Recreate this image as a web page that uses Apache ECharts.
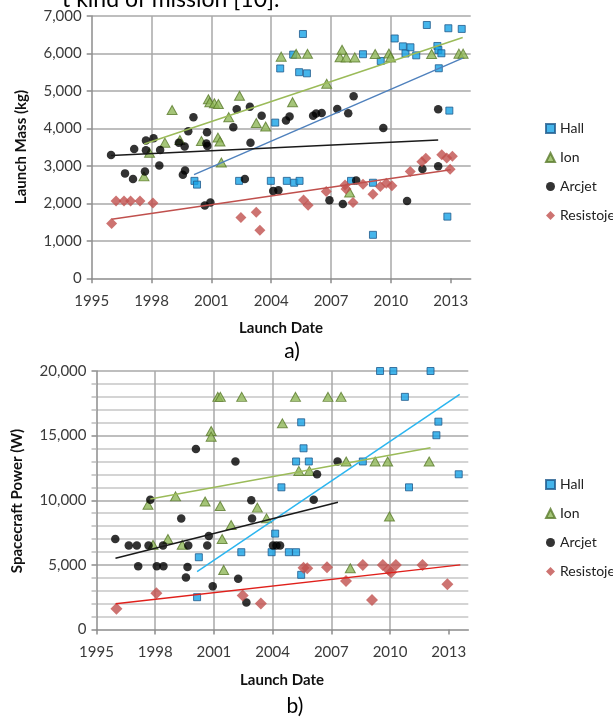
<!DOCTYPE html>
<html><head><meta charset="utf-8">
<script src="https://cdn.jsdelivr.net/npm/echarts@6/dist/echarts.min.js"></script>
<style>html,body{margin:0;padding:0;background:#fff;}#c{width:613px;height:718px;}</style>
</head><body><div id="c"></div>
<script>
// ---------- data ----------
const seriesNames = ['Hall', 'Ion', 'Arcjet', 'Resistojet'];
const xTicks = [1995, 1998, 2001, 2004, 2007, 2010, 2013];
const massTicks = [0, 1000, 2000, 3000, 4000, 5000, 6000, 7000];
const powerTicks = [0, 5000, 10000, 15000, 20000];

// a) Launch mass (kg) vs launch date
const hallMass = [[2000.15,2600],[2000.28,2500],[2002.39,2600],[2003.98,2600],[2004.2,4155],[2004.45,5600],[2004.78,2600],[2005.1,5970],[2005.15,2550],[2005.4,5500],[2005.42,2600],[2005.59,6520],[2005.79,5470],[2008.0,2600],[2008.6,5980],[2009.1,2550],[2009.1,1160],[2009.49,5800],[2010.19,6400],[2010.6,6190],[2010.73,6000],[2010.98,6165],[2011.27,5950],[2011.8,6760],[2012.33,6200],[2012.38,6095],[2012.4,5605],[2012.53,6005],[2012.83,1646],[2012.88,6673],[2012.93,4475],[2013.55,6655]];
const ionMass = [[1997.62,2720],[1997.9,3350],[1998.67,3620],[1999.03,4490],[1999.42,3690],[2000.5,3665],[2000.85,4780],[2000.92,4700],[2001.15,4670],[2001.35,4650],[2001.33,3755],[2001.43,3650],[2001.5,3090],[2001.87,4300],[2002.41,4870],[2003.25,4145],[2003.72,4050],[2004.5,5915],[2005.07,4700],[2005.25,5990],[2005.82,5990],[2006.78,5190],[2007.45,5900],[2007.55,6100],[2007.76,5895],[2008.19,5895],[2007.93,2290],[2009.21,5985],[2009.9,6000],[2009.98,5895],[2012.04,5985],[2013.41,5995],[2013.62,5995]];
const arcjetMass = [[1995.97,3290],[1996.67,2800],[1997.07,2650],[1997.13,3450],[1997.67,2850],[1997.72,3675],[1997.72,3420],[1998.1,3740],[1998.39,3010],[1998.43,3425],[1999.37,3620],[1999.57,2765],[1999.66,3515],[1999.68,2880],[1999.84,3925],[2000.1,4300],[2000.67,1940],[2000.75,3600],[2000.78,3900],[2000.8,3530],[2000.95,2020],[2002.1,4030],[2002.27,4510],[2002.68,2650],[2002.93,4580],[2002.96,3615],[2003.52,4335],[2004.1,2330],[2004.36,2350],[2004.74,4210],[2004.92,4315],[2006.1,4335],[2006.25,4400],[2006.53,4410],[2006.92,2080],[2007.31,4515],[2007.59,1980],[2007.86,4405],[2008.13,4860],[2008.26,2607],[2009.62,4013],[2010.81,2065],[2011.58,2915],[2012.37,4512],[2012.37,2990]];
const resistojetMass = [[1996.0,1460],[1996.22,2065],[1996.62,2065],[1996.95,2065],[1997.42,2065],[1998.07,2010],[2002.48,1625],[2003.25,1765],[2003.43,1280],[2005.62,2090],[2005.85,1950],[2006.76,2314],[2007.7,2490],[2007.75,2380],[2008.1,2025],[2008.6,2510],[2009.1,2245],[2009.47,2447],[2009.77,2537],[2010.05,2467],[2010.97,2848],[2011.55,3113],[2011.75,3203],[2012.55,3300],[2012.8,3210],[2012.97,2910],[2013.08,3260]];
const hallMassTrend = [[2000.13,2767],[2013.6,5875]];
const ionMassTrend = [[1997.63,3585],[2013.6,6425]];
const arcjetMassTrend = [[1995.97,3275],[2012.37,3693]];
const resistojetMassTrend = [[1996.0,1575],[2013.0,2895]];

// b) Spacecraft power (W) vs launch date
const hallPower = [[2000.14,2500],[2000.23,5590],[2002.4,5980],[2003.95,5980],[2004.13,7420],[2004.45,11000],[2004.83,5980],[2005.2,5980],[2005.2,13000],[2005.46,4230],[2005.46,16030],[2005.58,14020],[2005.85,13000],[2008.61,13000],[2009.49,20000],[2010.17,20000],[2010.76,18000],[2010.97,11000],[2012.07,20000],[2012.37,15030],[2012.47,16080],[2013.51,12010]];
const ionPower = [[1997.63,9650],[1997.89,6550],[1998.65,7000],[1999.04,10300],[1999.38,6550],[2000.55,9900],[2000.86,15360],[2000.86,14920],[2001.2,18000],[2001.33,18000],[2001.32,9560],[2001.42,7000],[2001.5,4610],[2001.88,8090],[2002.42,18000],[2003.22,9430],[2003.69,8600],[2004.5,15950],[2005.17,18000],[2005.34,12270],[2005.88,12270],[2006.83,18000],[2007.5,18000],[2007.76,13000],[2007.97,4740],[2009.24,13000],[2009.88,13000],[2009.97,8740],[2012.0,13000]];
const arcjetPower = [[1995.96,7010],[1996.65,6500],[1997.06,6500],[1997.13,4900],[1997.66,6500],[1997.75,10030],[1998.08,4900],[1998.4,6500],[1998.42,4900],[1999.33,8580],[1999.57,4030],[1999.65,4830],[1999.69,6500],[2000.08,13970],[2000.66,6500],[2000.74,7230],[2000.94,3350],[2002.1,12990],[2002.24,3930],[2002.66,2080],[2002.91,10000],[2002.95,8580],[2004.02,6500],[2004.2,6500],[2004.38,6500],[2006.1,10030],[2006.27,12010],[2007.32,13000]];
const resistojetPower = [[1996.02,1600],[1998.06,2810],[2002.47,2630],[2003.4,2010],[2005.58,4780],[2005.77,4740],[2006.78,4820],[2007.75,3760],[2008.61,5000],[2009.08,2290],[2009.63,5000],[2009.92,4620],[2010.06,4420],[2010.3,5000],[2011.66,5000],[2012.93,3500]];
const hallPowerTrend = [[2000.14,4485],[2013.56,18200]];
const ionPowerTrend = [[1997.75,10100],[2012.07,14070]];
const arcjetPowerTrend = [[1995.97,5515],[2007.34,9845]];
const resistojetPowerTrend = [[1995.98,1985],[2013.59,5000]];

// ---------- styles ----------
const FONT = 'Lato';
const markerStyles = {
  Hall: { symbol: 'rect', size: 7, itemStyle: { color: '#16a2e6', borderColor: '#1f5a8c', borderWidth: 1 } },
  Ion: { symbol: 'triangle', size: [10, 9], itemStyle: { color: '#8fb657', borderColor: '#5a7a2c', borderWidth: 1 } },
  Arcjet: { symbol: 'circle', size: 8.5, itemStyle: { color: '#000000' } },
  Resistojet: { symbol: 'diamond', size: [11, 11], itemStyle: { color: '#c0504d' } }
};

function scatter(name, data, gi, sizeOverride) {
  const m = markerStyles[name];
  return {
    type: 'scatter', name, data, xAxisIndex: gi, yAxisIndex: gi,
    symbol: m.symbol, symbolSize: sizeOverride || m.size, itemStyle: m.itemStyle,
    z: 2, silent: true
  };
}
function trend(data, gi, color) {
  return {
    type: 'line', data, xAxisIndex: gi, yAxisIndex: gi, symbol: 'none',
    lineStyle: { color, width: 1.5 }, z: 3, silent: true, animation: false
  };
}

const axisLineColor = '#8c8c8c';
const gridColor = '#a8a8a8';
function xAxis(gi) {
  return {
    type: 'value', gridIndex: gi, min: 1995, max: 2014, interval: 3,
    axisLine: { show: true, onZero: false, lineStyle: { color: axisLineColor, width: 1.5 } },
    axisTick: { show: true, length: 5, customValues: xTicks, lineStyle: { color: axisLineColor, width: 1.5 } },
    axisLabel: { margin: 15, fontFamily: FONT, fontSize: 15, color: '#3a3a3a',
      formatter: v => (xTicks.indexOf(v) >= 0 ? String(v) : '') },
    splitLine: { show: true, showMinLine: false, showMaxLine: false, lineStyle: { color: gridColor, width: 1.5 } }
  };
}
function yAxis(gi, max, interval, minor) {
  const a = {
    type: 'value', gridIndex: gi, min: 0, max, interval,
    axisLine: { show: true, lineStyle: { color: axisLineColor, width: 1.5 } },
    axisTick: { show: true, length: 5, lineStyle: { color: axisLineColor, width: 1.5 } },
    axisLabel: { margin: 10, fontFamily: FONT, fontSize: 15, color: '#3a3a3a',
      formatter: v => v.toLocaleString('en-US') },
    splitLine: { show: true, showMinLine: false, lineStyle: { color: gridColor, width: 1.5 } }
  };
  if (minor) {
    a.minorTick = { show: true, splitNumber: 5, length: 5, lineStyle: { color: '#bdbdbd', width: 1.5 } };
    a.minorSplitLine = { show: true, lineStyle: { color: '#c6c6c6', width: 1.5 } };
  }
  return a;
}
function legend(top) {
  return {
    data: seriesNames, orient: 'vertical', left: 540, top, itemWidth: 9, itemHeight: 9, itemGap: 14,
    selectedMode: false,
    textStyle: { fontFamily: FONT, fontSize: 14, lineHeight: 15, color: '#222' }
  };
}
function label(text, x, y, opts) {
  return Object.assign({
    type: 'text', x, y, silent: true,
    style: Object.assign({ text, fontFamily: FONT, fontSize: 15, fontWeight: 'bold', fill: '#111',
      align: 'center', verticalAlign: 'middle' }, opts && opts.style)
  }, opts && opts.el);
}

const chart = echarts.init(document.getElementById('c'), null, { renderer: 'canvas' });
chart.setOption({
  animation: false,
  backgroundColor: '#ffffff',
  grid: [
    { left: 91.7, top: 16, width: 379, height: 262.3 },
    { left: 96.5, top: 371, width: 371.8, height: 258.5 }
  ],
  xAxis: [xAxis(0), xAxis(1)],
  yAxis: [yAxis(0, 7000, 1000, false), yAxis(1, 20000, 5000, true)],
  legend: [legend(116), legend(472)],
  series: [
    scatter('Hall', hallMass, 0),
    scatter('Ion', ionMass, 0),
    scatter('Arcjet', arcjetMass, 0),
    scatter('Resistojet', resistojetMass, 0),
    trend(hallMassTrend, 0, '#4f81bd'),
    trend(ionMassTrend, 0, '#9bbb59'),
    trend(arcjetMassTrend, 0, '#1a1a1a'),
    trend(resistojetMassTrend, 0, '#c0504d'),
    scatter('Hall', hallPower, 1),
    scatter('Ion', ionPower, 1),
    scatter('Arcjet', arcjetPower, 1),
    scatter('Resistojet', resistojetPower, 1, [12, 12]),
    trend(hallPowerTrend, 1, '#2bb5ef'),
    trend(ionPowerTrend, 1, '#9bbb59'),
    trend(arcjetPowerTrend, 1, '#1a1a1a'),
    trend(resistojetPowerTrend, 1, '#e0201b')
  ],
  graphic: [
    label('t kind of mission [10].', 62, 0, { style: { fontSize: 23, fontWeight: 'normal', align: 'left', fill: '#000' } }),
    label('Launch Mass (kg)', 21, 147, { el: { rotation: Math.PI / 2 } }),
    label('Launch Date', 281, 328),
    label('a)', 292, 351, { style: { fontSize: 21, fontWeight: 'normal', fill: '#000' } }),
    label('Spacecraft Power (W)', 17, 501, { el: { rotation: Math.PI / 2 } }),
    label('Launch Date', 282, 680),
    label('b)', 295, 706, { style: { fontSize: 21, fontWeight: 'normal', fill: '#000' } })
  ]
});
</script>
</body></html>
